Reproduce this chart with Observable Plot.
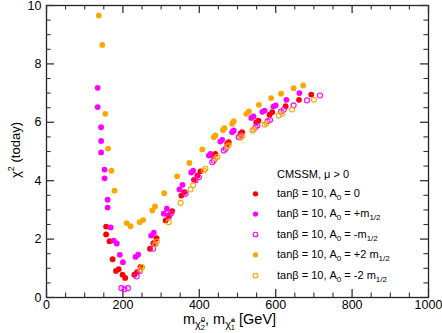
<!DOCTYPE html>
<html><head><meta charset="utf-8">
<script src="https://cdn.jsdelivr.net/npm/d3@7"></script>
<script src="https://cdn.jsdelivr.net/npm/@observablehq/plot@0.6"></script>
<style>
body{margin:0;background:#fff;}
#wrap{position:relative;width:442px;height:333px;}
</style></head><body><div id="wrap"></div>
<script>
// A0 = 0 (red, filled)
const a0Zero_m    = [156,156,165,173,182,189,199,206,230,237,246,271,280,288,312,320,329,353,361,386,395,403,436,442,473,477,508,512,549,555,584,591,626,661,693];
const a0Zero_chi2 = [2.43,2.16,1.93,1.31,0.91,0.97,0.78,0.67,0.78,0.87,1.05,1.67,1.86,2.03,2.64,2.80,2.96,3.49,3.61,4.03,4.17,4.32,4.86,4.92,5.26,5.32,5.61,5.66,6.00,6.06,6.26,6.35,6.55,6.77,6.95];
// A0 = +m1/2 (magenta, filled)
const a0PlusM_m    = [134,134,143,143,143,152,152,160,160,168,176,184,192,200,233,240,274,281,307,315,348,356,379,384,425,429,455,460,486,490,536,542,565,571,594,600,628,662];
const a0PlusM_chi2 = [7.18,6.52,5.83,5.36,4.97,4.38,4.08,3.35,3.08,2.40,1.95,1.85,1.46,1.21,1.39,1.47,2.12,2.22,2.87,3.04,3.70,3.86,4.28,4.34,4.86,4.92,5.34,5.40,5.66,5.72,6.15,6.20,6.36,6.40,6.54,6.58,6.77,7.00];
// A0 = -m1/2 (magenta, open)
const a0MinusM_m    = [196,204,213,236,244,279,285,320,326,364,390,399,434,438,464,469,503,508,547,552,579,585,614,621,647,682,716];
const a0MinusM_chi2 = [0.32,0.28,0.32,0.72,0.90,1.67,1.84,2.75,2.88,3.55,4.01,4.12,4.63,4.69,5.03,5.09,5.49,5.55,5.83,5.89,6.04,6.08,6.37,6.43,6.58,6.75,6.92];
// A0 = +2 m1/2 (orange, filled)
const a0Plus2M_m    = [137,146,154,161,170,178,210,220,244,253,277,284,308,342,374,408,438,442,462,466,486,490,523,530,556,588,614,647,672];
const a0Plus2M_chi2 = [9.66,8.65,6.29,5.10,4.34,3.66,2.55,2.44,2.58,2.65,2.98,3.12,3.57,4.15,4.61,5.07,5.49,5.55,5.74,5.80,5.95,6.04,6.29,6.37,6.60,6.83,6.98,7.17,7.26];
// A0 = -2 m1/2 (orange, open)
const a0Minus2M_m    = [246,250,285,289,320,351,377,384,412,416,442,447,473,477,508,512,539,543,571,576,608,617,643,700];
const a0Minus2M_chi2 = [0.95,1.04,1.82,1.92,2.58,3.24,3.70,3.84,4.35,4.41,4.75,4.81,5.17,5.21,5.47,5.52,5.72,5.76,5.92,5.97,6.23,6.29,6.44,6.77];

const xMajor = [0,200,400,600,800,1000];
const xMinor = d3.range(50,1000,50).filter(v => v % 200 !== 0);
const yMajor = [0,2,4,6,8,10];
const yMinor = d3.range(0.5,10,0.5).filter(v => v % 2 !== 0);

const series = [
  {name:"zero",  m:a0Zero_m,   c:a0Zero_chi2,   color:"#ff0000", filled:true},
  {name:"plus",  m:a0PlusM_m,  c:a0PlusM_chi2,  color:"#ff00ff", filled:true},
  {name:"minus", m:a0MinusM_m, c:a0MinusM_chi2, color:"#ff00ff", filled:false},
  {name:"plus2", m:a0Plus2M_m, c:a0Plus2M_chi2, color:"#ffa500", filled:true},
  {name:"minus2",m:a0Minus2M_m,c:a0Minus2M_chi2,color:"#ffa500", filled:false}
];
const toRows = s => s.m.map((m,i) => ({m, chi2:s.c[i]}));

const tickColor = "#333";
const marks = [
  Plot.frame({stroke:"#222", strokeWidth:1.3}),
  Plot.ruleX(xMajor, {x:d=>d, y1:0, y2:0.27, stroke:tickColor, strokeWidth:1.3}),
  Plot.ruleX(xMinor, {x:d=>d, y1:0, y2:0.15, stroke:tickColor, strokeWidth:1.1}),
  Plot.ruleX(xMajor, {x:d=>d, y1:10, y2:9.73, stroke:tickColor, strokeWidth:1.3}),
  Plot.ruleX(xMinor, {x:d=>d, y1:10, y2:9.85, stroke:tickColor, strokeWidth:1.1}),
  Plot.ruleY(yMajor, {y:d=>d, x1:0, x2:21, stroke:tickColor, strokeWidth:1.3}),
  Plot.ruleY(yMinor, {y:d=>d, x1:0, x2:12, stroke:tickColor, strokeWidth:1.1}),
  Plot.ruleY(yMajor, {y:d=>d, x1:1000, x2:979, stroke:tickColor, strokeWidth:1.3}),
  Plot.ruleY(yMinor, {y:d=>d, x1:1000, x2:988, stroke:tickColor, strokeWidth:1.1}),
  Plot.axisX(xMajor, {tickSize:0, tickPadding:3, fontSize:12.5, label:null, tickFormat:d=>String(d)}),
  Plot.axisY(yMajor, {tickSize:0, tickPadding:5, fontSize:12.5, label:null, tickFormat:d=>String(d)})
];
for (const s of series) {
  const rows = toRows(s);
  if (s.filled) marks.push(Plot.dot(rows, {x:"m", y:"chi2", r:2.9, fill:s.color, stroke:"none"}));
  else marks.push(Plot.dot(rows, {x:"m", y:"chi2", r:2.5, fill:"none", stroke:s.color, strokeWidth:1.1}));
}
const legendY = [193.3, 213.6, 234, 254.3, 275];
series.forEach((s,i) => {
  marks.push(Plot.dot([s.name], s.filled
    ? {frameAnchor:"top-left", dx:255-46, dy:legendY[i]-5, r:2.6, fill:s.color, stroke:"none"}
    : {frameAnchor:"top-left", dx:255-46, dy:legendY[i]-5, r:2.3, fill:"none", stroke:s.color, strokeWidth:1.1}));
});

const chart = Plot.plot({
  width:442, height:333,
  marginLeft:46, marginRight:14, marginTop:5, marginBottom:36,
  x:{domain:[0,1000]},
  y:{domain:[0,10]},
  style:{fontFamily:"'Liberation Sans', Arial, Helvetica, sans-serif", fontSize:"12.5px", color:"#000", background:"#fff", overflow:"visible"},
  marks
});
document.getElementById("wrap").appendChild(chart);

const svg = d3.select(chart);
const g = svg.append("g")
  .attr("font-family","'Liberation Sans', Arial, Helvetica, sans-serif")
  .attr("fill","#000")
  .attr("text-anchor","start");

g.append("text").attr("x",277).attr("y",178).attr("font-size",11).text("CMSSM, \u03bc > 0");
const legendTail = [" = 0", " = +m", " = -m", " = +2 m", " = -2 m"];
legendY.forEach((yy,i) => {
  const t = g.append("text").attr("x",277).attr("y",yy+3.8).attr("font-size",11);
  t.append("tspan").text("tan\u03b2 = 10, A");
  t.append("tspan").attr("font-size",8).attr("dy",2.8).text("0");
  t.append("tspan").attr("dy",-2.8).text(legendTail[i]);
  if (i > 0) t.append("tspan").attr("font-size",8).attr("dy",2.8).text("1/2");
});

const yt = g.append("text").attr("transform","translate(20,150) rotate(-90)").attr("text-anchor","middle").attr("font-size",13);
yt.append("tspan").text("\u03c7");
yt.append("tspan").attr("font-size",9).attr("dy",-6).text("2");
yt.append("tspan").attr("dy",6).text(" (today)");

const xt = g.append("text").attr("x",183).attr("y",324).attr("font-size",14.5);
xt.append("tspan").text("m");
xt.append("tspan").attr("font-size",11).attr("dy",3.5).text("\u03c7\u0303");
xt.append("tspan").attr("font-size",7.5).attr("dy",-5.5).text("0");
xt.append("tspan").attr("font-size",7.5).attr("dx",-4.2).attr("dy",7.5).text("2");
xt.append("tspan").attr("dy",-5.5).text(", m");
xt.append("tspan").attr("font-size",11).attr("dy",3.5).text("\u03c7\u0303");
xt.append("tspan").attr("font-size",7.5).attr("dy",-5.5).text("\u00b1");
xt.append("tspan").attr("font-size",7.5).attr("dx",-4.2).attr("dy",7.5).text("1");
xt.append("tspan").attr("dy",-5.5).text(" [GeV]");
</script>
</body></html>
